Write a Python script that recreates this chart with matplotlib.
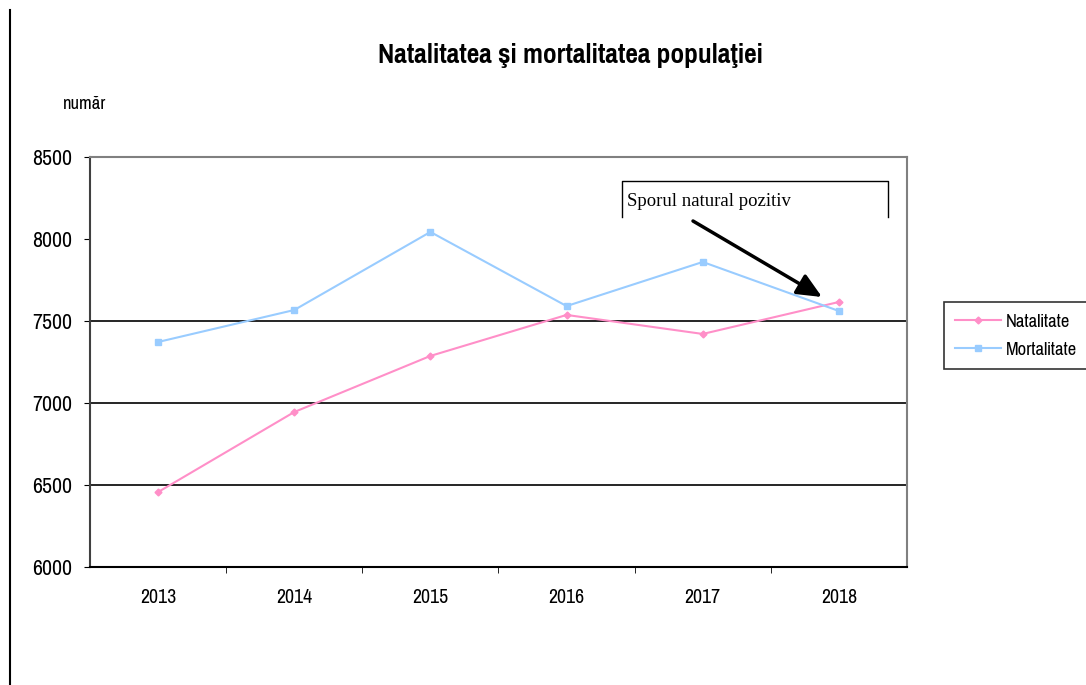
import matplotlib
matplotlib.use("Agg")
import matplotlib.pyplot as plt
from matplotlib.lines import Line2D

years = ["2013", "2014", "2015", "2016", "2017", "2018"]
natalitate = [6457, 6945, 7287, 7537, 7421, 7616]
mortalitate = [7372, 7567, 8043, 7591, 7860, 7561]
yticks = [6000, 6500, 7000, 7500, 8000, 8500]
grid_vals = [6500, 7000, 7500]

W, H = 1086, 685
fig = plt.figure(figsize=(W / 100, H / 100), dpi=100)
narrow = ["Pragati Narrow", "Archivo Narrow", "DejaVu Sans"]
serif = ["Liberation Serif", "DejaVu Serif"]

ax = fig.add_axes([90 / W, 1 - 567 / H, (907 - 90) / W, (567 - 157) / H])
x = list(range(len(years)))
ax.plot(x, natalitate, color="#FF8FC8", lw=1.5, marker="D", ms=3.5, label="Natalitate")
ax.plot(x, mortalitate, color="#99CCFF", lw=1.5, marker="s", ms=5, label="Mortalitate")
for g in grid_vals:
    ax.axhline(g, color="black", lw=1.2, zorder=0)

ax.set_xlim(-0.5, len(years) - 0.5)
ax.set_ylim(yticks[0], yticks[-1])
ax.set_yticks(yticks)
ax.set_yticklabels([str(v) for v in yticks], family=narrow, fontsize=17)
ax.set_xticks(x)
ax.set_xticklabels(years, family=narrow, fontsize=15.5)
ax.set_xticks([i + 0.5 for i in range(len(years) - 1)], minor=True)
ax.tick_params(axis="x", which="major", length=0, pad=15)
ax.tick_params(axis="x", which="minor", length=4.3, direction="out", color="black")
ax.tick_params(axis="y", length=4.3, direction="out", pad=8.6, color="black")
ax.spines["top"].set_color("#808080")
ax.spines["right"].set_color("#808080")
ax.spines["left"].set_color("#404040")
ax.spines["bottom"].set_color("black")
for s in ["top", "right", "left", "bottom"]:
    ax.spines[s].set_linewidth(1.5)

fig.text(570 / W, 1 - 55 / H, "Natalitatea şi mortalitatea populaţiei", ha="center", va="center",
         fontsize=21.5, fontweight="bold", family=narrow)
fig.text(85 / W, 1 - 104 / H, "număr", ha="center", va="center", fontsize=14.5, family=narrow)

# left border line of the page
fig.add_artist(Line2D([10 / W, 10 / W], [0, 1 - 10 / H], transform=fig.transFigure, color="black", lw=1.5))

# annotation box
bx0, bx1, by0, by1 = 622, 888, 181, 217
fig.add_artist(Line2D([bx0 / W, bx0 / W, bx1 / W, bx1 / W],
                      [1 - by1 / H, 1 - by0 / H, 1 - by0 / H, 1 - by1 / H],
                      transform=fig.transFigure, color="black", lw=1))
fig.text(627 / W, 1 - 201 / H, "Sporul natural pozitiv", ha="left", va="center",
         fontsize=13.5, family=serif)
ax.annotate("", xy=(822 / W, 1 - 297 / H), xycoords="figure fraction",
            xytext=(693 / W, 1 - 221 / H), textcoords="figure fraction",
            arrowprops=dict(arrowstyle="-|>,head_length=1.0,head_width=0.45", lw=2.5,
                            color="black", mutation_scale=15, shrinkA=0, shrinkB=0))

leg = fig.legend(loc="upper left", bbox_to_anchor=(944 / W, 1 - 302 / H), frameon=True,
                 fancybox=False, edgecolor="black", handlelength=2.3,
                 handletextpad=0.2, borderaxespad=0, borderpad=0.55, labelspacing=0.55,
                 prop={"family": narrow, "size": 14.5})
leg.get_frame().set_linewidth(1.2)

fig.savefig("out.png", dpi=100)
